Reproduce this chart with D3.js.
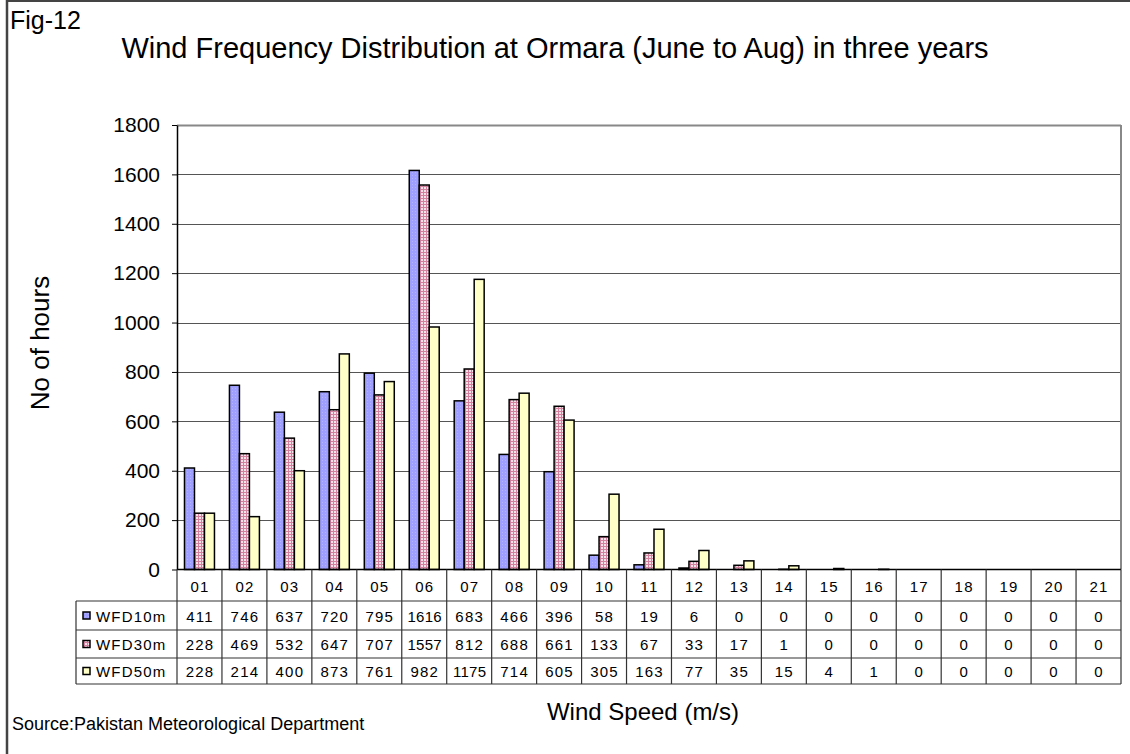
<!DOCTYPE html>
<html>
<head>
<meta charset="utf-8">
<script src="https://cdn.jsdelivr.net/npm/d3@7"></script>
<style>
  body { margin: 0; background: #fff; }
  svg { display: block; font-family: "Liberation Sans", Arial, sans-serif; }
</style>
</head>
<body>
<svg id="svg"></svg>
<script>
const width = 1130;
const height = 754;

// data
const speeds = ["01","02","03","04","05","06","07","08","09","10","11","12","13","14","15","16","17","18","19","20","21"];
const seriesNames = ["WFD10m", "WFD30m", "WFD50m"];
const wfd10 = [411, 746, 637, 720, 795, 1616, 683, 466, 396, 58, 19, 6, 0, 0, 0, 0, 0, 0, 0, 0, 0];
const wfd30 = [228, 469, 532, 647, 707, 1557, 812, 688, 661, 133, 67, 33, 17, 1, 0, 0, 0, 0, 0, 0, 0];
const wfd50 = [228, 214, 400, 873, 761, 982, 1175, 714, 605, 305, 163, 77, 35, 15, 4, 1, 0, 0, 0, 0, 0];
const yTicks = [0, 200, 400, 600, 800, 1000, 1200, 1400, 1600, 1800];

const seriesValues = [wfd10, wfd30, wfd50];

const margin = { top: 125, right: 8, bottom: 184, left: 177 };

let svg = d3.select("#svg")
    .attr("width", width)
    .attr("height", height)
    .attr("viewBox", [0, 0, width, height]);

// fill patterns, like the old excel ones
const defs = svg.append("defs");

const pBlue = defs.append("pattern")
    .attr("id", "pat0").attr("width", 3).attr("height", 3)
    .attr("patternUnits", "userSpaceOnUse");
pBlue.append("rect").attr("width", 3).attr("height", 3).attr("fill", "#9f9fff");
pBlue.append("rect").attr("x", 1).attr("y", 1).attr("width", 1).attr("height", 1).attr("fill", "#b4b4ff");

const pPink = defs.append("pattern")
    .attr("id", "pat1").attr("width", 3).attr("height", 3)
    .attr("patternUnits", "userSpaceOnUse");
pPink.append("rect").attr("width", 3).attr("height", 3).attr("fill", "#d4809f");
pPink.append("rect").attr("x", 1).attr("y", 1).attr("width", 2).attr("height", 2).attr("fill", "#f6e0ea");

const pYellow = defs.append("pattern")
    .attr("id", "pat2").attr("width", 3).attr("height", 3)
    .attr("patternUnits", "userSpaceOnUse");
pYellow.append("rect").attr("width", 3).attr("height", 3).attr("fill", "#ffffc8");

const fills = ["url(#pat0)", "url(#pat1)", "url(#pat2)"];

let xScale = d3.scaleBand()
    .domain(speeds)
    .range([margin.left, width - margin.right - 1]);

let innerScale = d3.scaleBand()
    .domain(seriesNames)
    .range([0, xScale.bandwidth()])
    .paddingInner(0)
    .paddingOuter(0.75);

let yScale = d3.scaleLinear()
    .domain([0, 1800])
    .range([height - margin.bottom - 0.5, margin.top]);

const plotRight = xScale.range()[1];
const plotBottom = yScale(0);

// outer frame
svg.append("line").attr("x1", 7).attr("x2", 7).attr("y1", 0).attr("y2", height)
    .attr("stroke", "#444").attr("stroke-width", 2.5);
svg.append("line").attr("x1", 7).attr("x2", width).attr("y1", 1).attr("y2", 1)
    .attr("stroke", "#444").attr("stroke-width", 2);

// gridlines
svg.append("g")
    .selectAll("line")
    .data(yTicks.filter(d => d > 0))
    .enter()
    .append("line")
        .attr("x1", margin.left)
        .attr("x2", plotRight)
        .attr("y1", d => Math.round(yScale(d)) + 0.5)
        .attr("y2", d => Math.round(yScale(d)) + 0.5)
        .attr("stroke", d => d === 1800 ? "#888" : "#555")
        .attr("stroke-width", d => d === 1800 ? 2 : 1);

// right frame of plot
svg.append("line")
    .attr("x1", plotRight).attr("x2", plotRight)
    .attr("y1", margin.top).attr("y2", plotBottom)
    .attr("stroke", "#888").attr("stroke-width", 2);

// bars
seriesNames.forEach(function(name, si) {
    svg.append("g")
        .selectAll("rect")
        .data(seriesValues[si])
        .enter()
        .append("rect")
            .attr("x", (d, i) => xScale(speeds[i]) + innerScale(name))
            .attr("y", d => yScale(d))
            .attr("width", innerScale.bandwidth())
            .attr("height", d => plotBottom - yScale(d))
            .attr("fill", fills[si])
            .attr("stroke", "#000")
            .attr("stroke-width", d => d > 0 ? 1.5 : 0);
});

// y axis
let yAxis = svg.append("g")
    .attr("transform", `translate(${margin.left}, 0)`)
    .call(d3.axisLeft(yScale).tickValues(yTicks).tickFormat(d3.format("d"))
        .tickSize(5).tickSizeOuter(0).tickPadding(12));
yAxis.select(".domain").attr("stroke", "#000").attr("stroke-width", 1.5);
yAxis.selectAll(".tick line").attr("stroke", "#000");
yAxis.selectAll("text")
    .attr("font-size", "21px")
    .attr("font-family", "Liberation Sans, Arial, sans-serif")
    .style("fill", "#000");

// data table
const rowTops = [571, 601, 630, 658, 684];
const legendLeft = 76;
const tableColor = "#333";
const table = svg.append("g");

// category row lines
table.append("line").attr("x1", margin.left).attr("x2", plotRight)
    .attr("y1", plotBottom).attr("y2", plotBottom)
    .attr("stroke", "#000").attr("stroke-width", 1.5);
rowTops.slice(1).forEach(function(y) {
    table.append("line").attr("x1", legendLeft).attr("x2", plotRight)
        .attr("y1", y).attr("y2", y)
        .attr("stroke", tableColor).attr("stroke-width", 1.2);
});
// vertical lines
table.selectAll(".vline")
    .data(speeds.concat(["end"]))
    .enter()
    .append("line")
        .attr("class", "vline")
        .attr("x1", (d, i) => i < speeds.length ? xScale(d) : plotRight)
        .attr("x2", (d, i) => i < speeds.length ? xScale(d) : plotRight)
        .attr("y1", plotBottom)
        .attr("y2", rowTops[4])
        .attr("stroke", tableColor).attr("stroke-width", 1.2);
table.append("line").attr("x1", legendLeft).attr("x2", legendLeft)
    .attr("y1", rowTops[1]).attr("y2", rowTops[4])
    .attr("stroke", tableColor).attr("stroke-width", 1.2);

// category labels
table.selectAll(".cat")
    .data(speeds)
    .enter()
    .append("text")
        .attr("class", "cat")
        .attr("x", d => xScale(d) + xScale.bandwidth() / 2 + 0.5)
        .attr("y", (rowTops[0] + rowTops[1]) / 2 + 6)
        .attr("text-anchor", "middle")
        .attr("font-size", "15px")
        .attr("letter-spacing", "1.2px")
        .text(d => d);

seriesNames.forEach(function(name, si) {
    const yMid = (rowTops[si + 1] + rowTops[si + 2]) / 2;
    table.append("rect")
        .attr("x", 83).attr("y", yMid - 3.5)
        .attr("width", 7).attr("height", 7)
        .attr("fill", fills[si])
        .attr("stroke", "#000").attr("stroke-width", 1.5);
    table.append("text")
        .attr("x", 96).attr("y", yMid + 6)
        .attr("font-size", "15px")
        .attr("letter-spacing", "1.2px")
        .text(name);
    table.selectAll(".val" + si)
        .data(seriesValues[si])
        .enter()
        .append("text")
            .attr("x", (d, i) => xScale(speeds[i]) + xScale.bandwidth() / 2 + 0.5)
            .attr("y", yMid + 6)
            .attr("text-anchor", "middle")
            .attr("font-size", "15px")
            .attr("letter-spacing", d => d >= 1000 ? "0.3px" : "1.2px")
            .text(d => d);
});

// titles
svg.append("text")
    .text("Fig-12")
    .attr("x", 10)
    .attr("y", 29)
    .attr("font-size", "25px");

svg.append("text")
    .text("Wind Frequency Distribution at Ormara (June to Aug) in three years")
    .attr("x", 555)
    .attr("y", 58)
    .attr("text-anchor", "middle")
    .attr("font-size", "29px");

svg.append("text")
    .text("No of hours")
    .attr("transform", "rotate(-90)")
    .attr("x", -343)
    .attr("y", 49)
    .attr("text-anchor", "middle")
    .attr("font-size", "26px");

svg.append("text")
    .text("Wind Speed (m/s)")
    .attr("x", 643)
    .attr("y", 720)
    .attr("text-anchor", "middle")
    .attr("font-size", "24px");

svg.append("text")
    .text("Source:Pakistan Meteorological Department")
    .attr("x", 12)
    .attr("y", 730)
    .attr("font-size", "18px");
</script>
</body>
</html>
